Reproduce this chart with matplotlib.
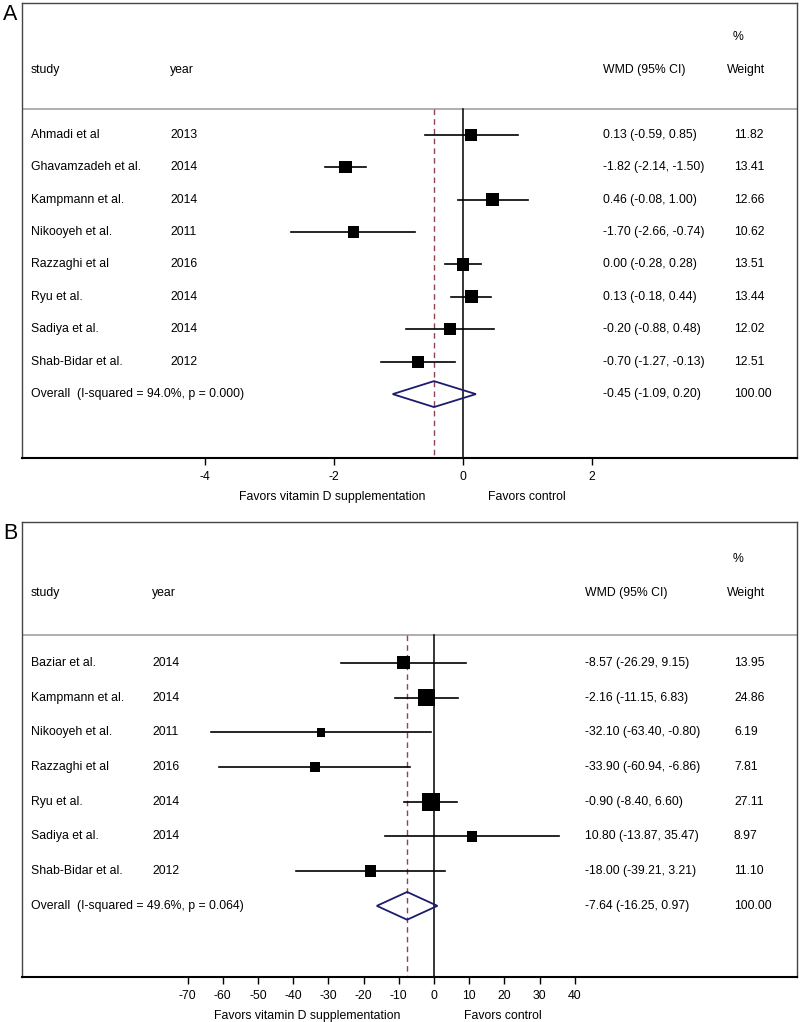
import matplotlib
matplotlib.use("Agg")
import matplotlib.pyplot as plt
import matplotlib.transforms as mtransforms
from matplotlib.patches import Polygon

plt.rcParams["font.family"] = ["Liberation Sans", "DejaVu Sans"]

# ── panel A data ──
a_studies = ["Ahmadi et al", "Ghavamzadeh et al.", "Kampmann et al.", "Nikooyeh et al.",
             "Razzaghi et al", "Ryu et al.", "Sadiya et al.", "Shab-Bidar et al."]
a_years = [2013, 2014, 2014, 2011, 2016, 2014, 2014, 2012]
a_wmd = [0.13, -1.82, 0.46, -1.70, 0.00, 0.13, -0.20, -0.70]
a_lo = [-0.59, -2.14, -0.08, -2.66, -0.28, -0.18, -0.88, -1.27]
a_hi = [0.85, -1.50, 1.00, -0.74, 0.28, 0.44, 0.48, -0.13]
a_weight = [11.82, 13.41, 12.66, 10.62, 13.51, 13.44, 12.02, 12.51]
a_overall = [-0.45, -1.09, 0.20]
a_overall_label = "Overall  (I-squared = 94.0%, p = 0.000)"
a_ticks = [-4, -2, 0, 2]

# ── panel B data ──
b_studies = ["Baziar et al.", "Kampmann et al.", "Nikooyeh et al.", "Razzaghi et al",
             "Ryu et al.", "Sadiya et al.", "Shab-Bidar et al."]
b_years = [2014, 2014, 2011, 2016, 2014, 2014, 2012]
b_wmd = [-8.57, -2.16, -32.10, -33.90, -0.90, 10.80, -18.00]
b_lo = [-26.29, -11.15, -63.40, -60.94, -8.40, -13.87, -39.21]
b_hi = [9.15, 6.83, -0.80, -6.86, 6.60, 35.47, 3.21]
b_weight = [13.95, 24.86, 6.19, 7.81, 27.11, 8.97, 11.10]
b_overall = [-7.64, -16.25, 0.97]
b_overall_label = "Overall  (I-squared = 49.6%, p = 0.064)"
b_ticks = [-70, -60, -50, -40, -30, -20, -10, 0, 10, 20, 30, 40]

FS = 8.8
DIAMOND = "#1c1c6e"
DASH = "#8c4452"


def px(x):
    """pixel x of the figure -> axes fraction of the frame"""
    return (x - 22) / 775.0


def draw_panel(ax, letter, studies, years, wmd, lo, hi, weight, overall, overall_label,
               ticks, xlim, ybottom, col_year, col_wmd, fav_x):
    n = len(studies)
    rows = list(range(n))
    ax.set_xlim(*xlim)
    ax.set_ylim(ybottom, -4.06)

    tr = mtransforms.blended_transform_factory(ax.transAxes, ax.transData)

    # header
    ax.text(px(31), -2.0, "study", transform=tr, fontsize=FS, va="center")
    ax.text(px(col_year), -2.0, "year", transform=tr, fontsize=FS, va="center")
    ax.text(px(col_wmd), -2.0, "WMD (95% CI)", transform=tr, fontsize=FS, va="center")
    ax.text(px(727), -2.0, "Weight", transform=tr, fontsize=FS, va="center")
    ax.text(px(733), -3.0, "%", transform=tr, fontsize=FS, va="center")
    ax.axhline(-0.8, color="#a8a8a8", lw=1.3)

    # reference lines
    ax.plot([0, 0], [-0.8, ybottom], color="black", lw=1.1)
    ax.plot([overall[0], overall[0]], [-0.8, ybottom], color=DASH, lw=1.0,
            linestyle=(0, (4, 3)))

    # studies
    for i in rows:
        ax.plot([lo[i], hi[i]], [i, i], color="black", lw=1.2, zorder=3)
        ax.text(px(31), i, studies[i], transform=tr, fontsize=FS, va="center")
        ax.text(px(col_year), i, str(years[i]), transform=tr, fontsize=FS, va="center")
        ax.text(px(col_wmd), i, f"{wmd[i]:.2f} ({lo[i]:.2f}, {hi[i]:.2f})",
                transform=tr, fontsize=FS, va="center")
        ax.text(px(734), i, f"{weight[i]:.2f}", transform=tr, fontsize=FS, va="center")
    ax.scatter(wmd, rows, marker="s", s=[6.3 * w for w in weight], color="black",
               linewidths=0, zorder=4)

    # overall diamond
    yo = n
    est, olo, ohi = overall
    ax.add_patch(Polygon([[olo, yo], [est, yo - 0.4], [ohi, yo], [est, yo + 0.4]],
                         closed=True, fill=False, edgecolor=DIAMOND, lw=1.3, zorder=4))
    ax.text(px(31), yo, overall_label, transform=tr, fontsize=FS, va="center")
    ax.text(px(col_wmd), yo, f"{est:.2f} ({olo:.2f}, {ohi:.2f})",
            transform=tr, fontsize=FS, va="center")
    ax.text(px(734), yo, "100.00", transform=tr, fontsize=FS, va="center")

    # frame / axis
    for side in ("left", "top", "right"):
        ax.spines[side].set_color("#444444")
        ax.spines[side].set_linewidth(1.0)
    ax.spines["bottom"].set_color("black")
    ax.spines["bottom"].set_linewidth(1.5)
    ax.set_yticks([])
    ax.set_xticks(ticks)
    ax.set_xticklabels([str(t) for t in ticks])
    ax.tick_params(axis="x", direction="out", length=5, width=1.0, pad=4, labelsize=FS)

    trb = mtransforms.blended_transform_factory(ax.transData, ax.transAxes)
    ax.text(fav_x[0], -0.085, "Favors vitamin D supplementation", transform=trb,
            fontsize=FS, ha="center", va="center")
    ax.text(fav_x[1], -0.085, "Favors control", transform=trb,
            fontsize=FS, ha="center", va="center")

    ax.text(-0.024, 0.975, letter, transform=ax.transAxes, fontsize=15.5,
            ha="left", va="center")


fig = plt.figure(figsize=(8.0, 10.22), dpi=100)
H = 1022.0
axA = fig.add_axes([22 / 800, (H - 458) / H, 775 / 800, 455 / H])
axB = fig.add_axes([22 / 800, (H - 977) / H, 775 / 800, 455 / H])

draw_panel(axA, "A", a_studies, a_years, a_wmd, a_lo, a_hi, a_weight, a_overall,
           a_overall_label, a_ticks, ((22 - 463) / 64.5, (797 - 463) / 64.5), 9.97,
           170, 603, (-2.03, 0.99))
draw_panel(axB, "B", b_studies, b_years, b_wmd, b_lo, b_hi, b_weight, b_overall,
           b_overall_label, b_ticks, ((22 - 434) / 3.52, (797 - 434) / 3.52), 9.05,
           152, 585, (-36.1, 19.6))

fig.savefig("out.png", dpi=100)
